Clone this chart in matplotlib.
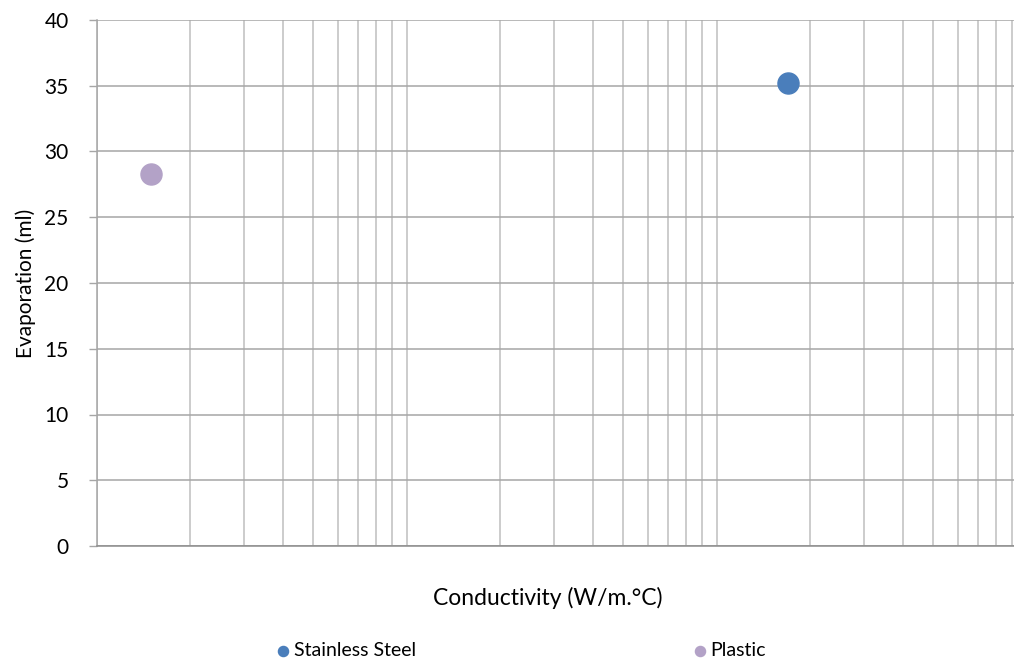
import matplotlib.pyplot as plt
from matplotlib.ticker import LogLocator, NullFormatter

# data
materials = ["Stainless Steel", "Plastic"]
conductivity = [17.0, 0.15]
evaporation = [35.2, 28.3]
colors = ["#4A7EBB", "#B3A2C7"]
y_ticks = [0, 5, 10, 15, 20, 25, 30, 35, 40]

plt.rcParams['font.family'] = ['Lato', 'DejaVu Sans']

fig = plt.figure(figsize=(10.14, 6.68), dpi=100)
W, H = 1014, 668
x0, x1 = 96.5, 1026.5
y0, y1 = 546, 20
ax = fig.add_axes([x0 / W, (H - y0) / H, (x1 - x0) / W, (y0 - y1) / H])

ax.set_xscale('log')
ax.set_xlim(0.1, 100)
ax.set_ylim(0, 40)
ax.set_yticks(y_ticks)

ax.xaxis.set_major_locator(LogLocator(base=10, subs=range(1, 10)))
ax.xaxis.set_major_formatter(NullFormatter())
ax.xaxis.set_minor_formatter(NullFormatter())
ax.tick_params(axis='x', which='both', length=0)
ax.tick_params(axis='y', length=6, width=1, color='#A6A6A6', labelsize=15, pad=14)

ax.grid(axis='x', which='major', color='#BFBFBF', lw=1.1)
ax.grid(axis='y', color='#A6A6A6', lw=1.1)
ax.set_axisbelow(True)
for s in ['top', 'right']:
    ax.spines[s].set_visible(False)
ax.spines['left'].set_color('#A6A6A6')
ax.spines['bottom'].set_color('#8C8C8C')
ax.spines['left'].set_linewidth(1.1)
ax.spines['bottom'].set_linewidth(1.1)

for name, cx, ev, c in zip(materials, conductivity, evaporation, colors):
    ax.scatter([cx], [ev], s=230, color=c, label=name, zorder=3, clip_on=False)

ax.set_ylabel("Evaporation (ml)", fontsize=15, labelpad=6)
fig.text(548 / W, 1 - 598 / H, "Conductivity (W/m.°C)", fontsize=16.5,
         ha='center', va='center')

leg = fig.legend(loc='center left', bbox_to_anchor=(256 / W, 1 - 651 / H), ncol=2,
                 frameon=False, fontsize=14, markerscale=0.48, handletextpad=0.05,
                 columnspacing=14.1, handlelength=1.0)

fig.savefig("out.png", dpi=100)
